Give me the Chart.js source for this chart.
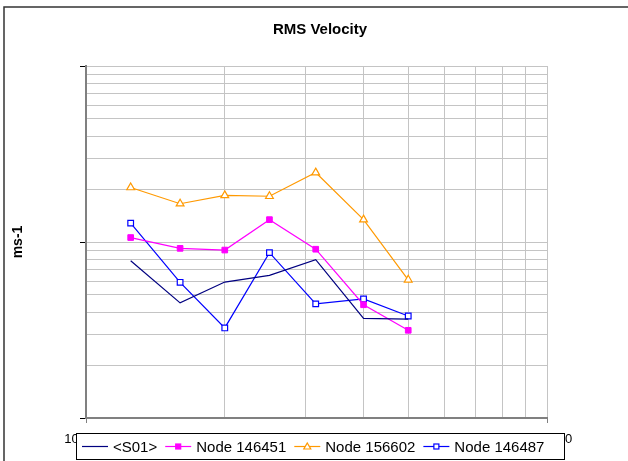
<!DOCTYPE html>
<html lang="en">
<head>
    <meta charset="UTF-8">
    <title>RMS Velocity</title>
    <script src="https://cdn.jsdelivr.net/npm/chart.js"></script>
    <style>
        body { margin: 0; background: #fff; }
    </style>
</head>
<body>
    <canvas id="rmsChart" width="628" height="461"></canvas>

    <script>
        // data
        const xValues = [125000, 160000, 200000, 250000, 315000, 400000, 500000];
        const s01 = [7.83e-4, 4.51e-4, 5.92e-4, 6.46e-4, 7.93e-4, 3.68e-4, 3.65e-4];
        const node146451 = [1.06e-3, 9.2e-4, 9.0e-4, 1.34e-3, 9.1e-4, 4.4e-4, 3.15e-4];
        const node156602 = [2.04e-3, 1.65e-3, 1.84e-3, 1.82e-3, 2.48e-3, 1.34e-3, 6.1e-4];
        const node146487 = [1.28e-3, 5.9e-4, 3.25e-4, 8.7e-4, 4.45e-4, 4.75e-4, 3.8e-4];

        const seriesNames = ['<S01>', 'Node 146451', 'Node 156602', 'Node 146487'];

        // axis ranges (log decades)
        const xDecades = [100000, 1000000];
        const yDecades = [0.0001, 0.001, 0.01];
        const minorSteps = [1, 2, 3, 4, 5, 6, 7, 8, 9];

        const FONT = 'Arial, "Liberation Sans", sans-serif';

        function decadeTicks(decades) {
            const out = [];
            for (let i = 0; i < decades.length - 1; i++) {
                minorSteps.forEach(m => out.push({ value: decades[i] * m }));
            }
            out.push({ value: decades[decades.length - 1] });
            return out;
        }

        function isDecade(v) {
            const l = Math.log10(v);
            return Math.abs(l - Math.round(l)) < 1e-6;
        }

        const toPoints = arr => arr.map((y, i) => ({ x: xValues[i], y: y }));

        const datasets = [
            {
                label: seriesNames[0], data: toPoints(s01),
                borderColor: '#000080', borderWidth: 1.2,
                pointRadius: 0, pointStyle: false
            },
            {
                label: seriesNames[1], data: toPoints(node146451),
                borderColor: '#ff00ff', borderWidth: 1.2,
                pointStyle: 'rect', pointRadius: 4,
                pointBackgroundColor: '#ff00ff', pointBorderColor: '#ff00ff', pointBorderWidth: 1
            },
            {
                label: seriesNames[2], data: toPoints(node156602),
                borderColor: '#ff9900', borderWidth: 1.2,
                pointStyle: 'triangle', pointRadius: 4.5,
                pointBackgroundColor: '#ffffff', pointBorderColor: '#ff9900', pointBorderWidth: 1.2
            },
            {
                label: seriesNames[3], data: toPoints(node146487),
                borderColor: '#0000ff', borderWidth: 1.2,
                pointStyle: 'rect', pointRadius: 4,
                pointBackgroundColor: '#ffffff', pointBorderColor: '#0000ff', pointBorderWidth: 1.2
            }
        ];

        // white background + outer frame
        const framePlugin = {
            id: 'frame',
            beforeDraw(chart) {
                const ctx = chart.ctx;
                ctx.save();
                ctx.fillStyle = '#fff';
                ctx.fillRect(0, 0, chart.width, chart.height);
                ctx.strokeStyle = '#333';
                ctx.lineWidth = 1.5;
                ctx.strokeRect(4, 7, 800, 600);
                ctx.restore();
            }
        };

        // excel style legend box under the plot
        const legendPlugin = {
            id: 'xlLegend',
            afterDraw(chart) {
                const ctx = chart.ctx;
                const box = { left: 76.5, top: 433.5, width: 488, height: 26 };
                const cy = box.top + box.height / 2;
                ctx.save();
                ctx.fillStyle = '#fff';
                ctx.fillRect(box.left, box.top, box.width, box.height);
                ctx.strokeStyle = '#000';
                ctx.lineWidth = 1;
                ctx.strokeRect(box.left, box.top, box.width, box.height);
                ctx.font = '15px ' + FONT;
                ctx.textBaseline = 'middle';
                let x = 82;
                chart.data.datasets.forEach(ds => {
                    ctx.strokeStyle = ds.borderColor;
                    ctx.lineWidth = 1.2;
                    ctx.beginPath();
                    ctx.moveTo(x, cy);
                    ctx.lineTo(x + 26, cy);
                    ctx.stroke();
                    const mx = x + 13;
                    if (ds.pointStyle === 'rect') {
                        ctx.fillStyle = ds.pointBackgroundColor;
                        ctx.strokeStyle = ds.pointBorderColor;
                        ctx.fillRect(mx - 2.5, cy - 2.5, 5, 5);
                        ctx.strokeRect(mx - 2.5, cy - 2.5, 5, 5);
                    } else if (ds.pointStyle === 'triangle') {
                        ctx.fillStyle = ds.pointBackgroundColor;
                        ctx.strokeStyle = ds.pointBorderColor;
                        ctx.beginPath();
                        ctx.moveTo(mx, cy - 3.5);
                        ctx.lineTo(mx + 3.5, cy + 2.5);
                        ctx.lineTo(mx - 3.5, cy + 2.5);
                        ctx.closePath();
                        ctx.fill();
                        ctx.stroke();
                    }
                    ctx.fillStyle = '#000';
                    ctx.fillText(ds.label, x + 31, cy + 1);
                    x += 31 + ctx.measureText(ds.label).width + 8;
                });
                ctx.restore();
            }
        };

        const gridColor = '#c4c4c4';

        new Chart(document.getElementById('rmsChart'), {
            type: 'line',
            data: { datasets: datasets },
            plugins: [framePlugin, legendPlugin],
            options: {
                responsive: false,
                animation: false,
                layout: { padding: { left: 12, right: 0, top: 0, bottom: 0 } },
                plugins: {
                    legend: { display: false },
                    tooltip: { enabled: false },
                    title: {
                        display: true,
                        text: 'RMS Velocity',
                        color: '#000',
                        font: { family: FONT, size: 15, weight: 'bold' },
                        padding: { top: 21, bottom: 27 }
                    }
                },
                scales: {
                    x: {
                        type: 'logarithmic',
                        min: xDecades[0],
                        max: xDecades[1],
                        afterBuildTicks: s => { s.ticks = decadeTicks(xDecades); },
                        afterFit: s => { s.height = 43; },
                        grid: {
                            color: gridColor,
                            lineWidth: 1,
                            tickLength: 5,
                            tickColor: c => (c.tick && isDecade(c.tick.value)) ? '#808080' : 'rgba(0,0,0,0)'
                        },
                        border: { color: '#808080', width: 2 },
                        ticks: {
                            autoSkip: false,
                            maxRotation: 0,
                            padding: 9,
                            color: '#000',
                            font: { family: FONT, size: 13 },
                            callback: v => isDecade(v) ? String(v) : ''
                        }
                    },
                    y: {
                        type: 'logarithmic',
                        min: yDecades[0],
                        max: yDecades[yDecades.length - 1],
                        afterBuildTicks: s => { s.ticks = decadeTicks(yDecades); },
                        afterFit: s => { s.width = 74; },
                        grid: {
                            color: gridColor,
                            lineWidth: 1,
                            tickLength: 6,
                            tickColor: c => (c.tick && isDecade(c.tick.value)) ? '#000' : 'rgba(0,0,0,0)'
                        },
                        border: { color: '#808080', width: 2 },
                        ticks: { display: false },
                        title: {
                            display: true,
                            text: 'ms-1',
                            color: '#000',
                            font: { family: FONT, size: 14, weight: 'bold', lineHeight: 0.9 },
                            padding: { top: 0, bottom: 0 }
                        }
                    },
                    // empty spacer on the right so the plot stops where the original does
                    spacer: {
                        type: 'linear',
                        position: 'right',
                        min: 0,
                        max: 1,
                        afterFit: s => { s.width = 81; },
                        grid: { display: false },
                        border: { display: false },
                        ticks: { display: false }
                    }
                }
            }
        });
    </script>
</body>
</html>
